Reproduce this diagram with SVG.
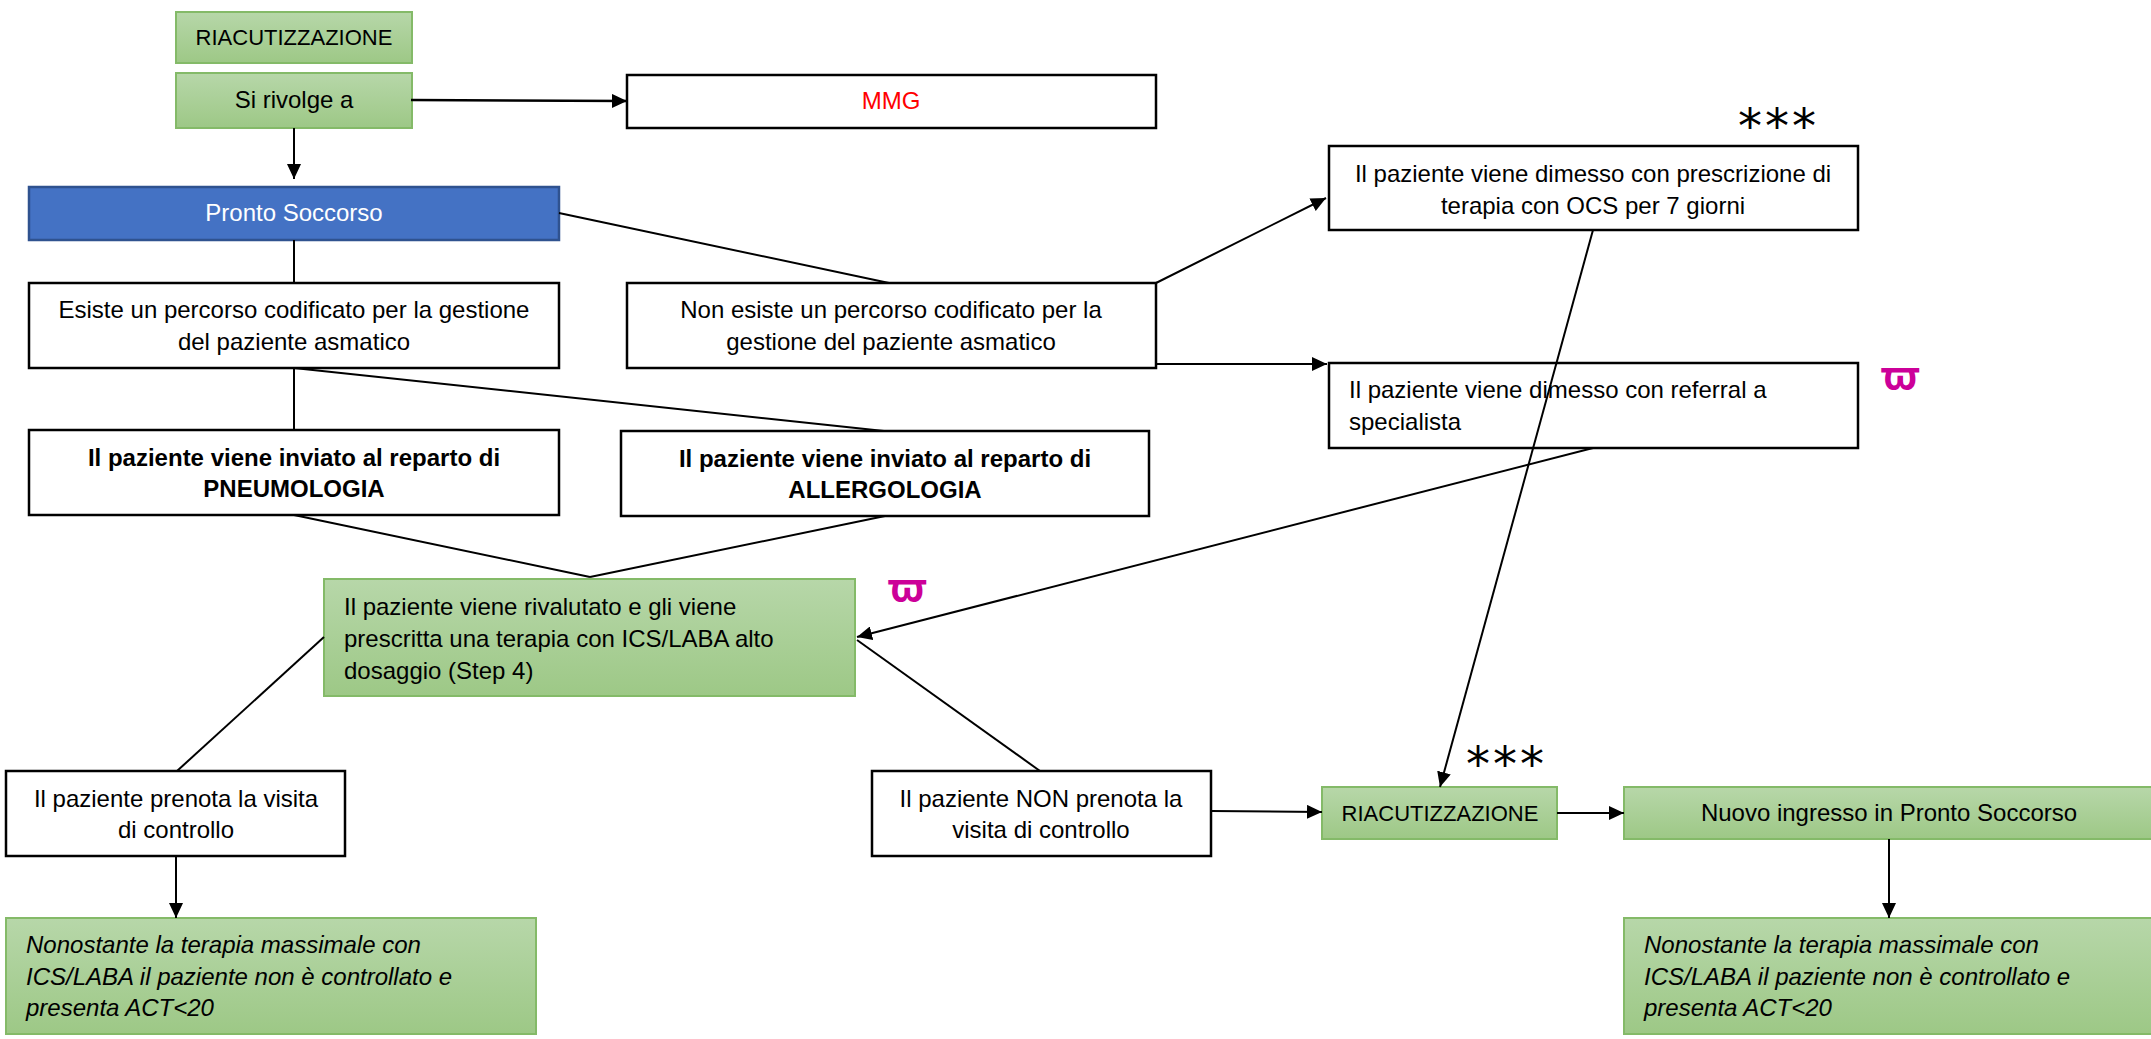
<svg xmlns="http://www.w3.org/2000/svg" width="2151" height="1039" viewBox="0 0 2151 1039">
<defs>
<linearGradient id="gr" x1="0" y1="0" x2="0" y2="1">
<stop offset="0" stop-color="#B7D7A9"/>
<stop offset="1" stop-color="#9DC886"/>
</linearGradient>
<marker id="ah" markerUnits="userSpaceOnUse" markerWidth="16" markerHeight="14" refX="15" refY="7" orient="auto">
<path d="M0,0 L15,7 L0,14 Z" fill="#000"/>
</marker>
<style>
.t{font-family:"Liberation Sans",Arial,sans-serif;font-size:24px;fill:#000}
.c{text-anchor:middle}
.b{font-weight:bold}
.i{font-style:italic}
.w{fill:#fff;stroke:#000;stroke-width:2.5}
.g{fill:url(#gr);stroke:#84BA68;stroke-width:2}
.bl{fill:#4472C4;stroke:#2F528F;stroke-width:2.5}
.ln{stroke:#000;stroke-width:2;fill:none}
.ar{stroke:#000;stroke-width:2;fill:none;marker-end:url(#ah)}
.star{font-family:"DejaVu Sans",sans-serif;font-size:48px;letter-spacing:3px;fill:#000}
.om{font-family:"Noto Sans","DejaVu Sans",sans-serif;font-weight:bold;font-size:40px;fill:#CC0099}
</style>
</defs>
<rect width="2151" height="1039" fill="#fff"/>
<g id="n-riac1"><rect class="g" x="176" y="12" width="236" height="51"/><text class="t c" x="294" y="45" style="font-size:22px">RIACUTIZZAZIONE</text></g>
<g id="n-sirivolge"><rect class="g" x="176" y="73" width="236" height="55"/><text class="t c" x="294" y="108">Si rivolge a</text></g>
<g id="n-mmg"><rect class="w" x="627" y="75" width="529" height="53"/><text class="t c" x="891" y="109" style="fill:#FF0000">MMG</text></g>
<g id="n-ps"><rect class="bl" x="29" y="187" width="530" height="53"/><text class="t c" x="294" y="221" style="fill:#fff">Pronto Soccorso</text></g>
<g id="n-esiste"><rect class="w" x="29" y="283" width="530" height="85"/><text class="t c" x="294" y="318">Esiste un percorso codificato per la gestione</text><text class="t c" x="294" y="350">del paziente asmatico</text></g>
<g id="n-nonesiste"><rect class="w" x="627" y="283" width="529" height="85"/><text class="t c" x="891" y="318">Non esiste un percorso codificato per la</text><text class="t c" x="891" y="350">gestione del paziente asmatico</text></g>
<g id="n-pneumo"><rect class="w" x="29" y="430" width="530" height="85"/><text class="t c b" x="294" y="466">Il paziente viene inviato al reparto di</text><text class="t c b" x="294" y="497">PNEUMOLOGIA</text></g>
<g id="n-allergo"><rect class="w" x="621" y="431" width="528" height="85"/><text class="t c b" x="885" y="467">Il paziente viene inviato al reparto di</text><text class="t c b" x="885" y="498">ALLERGOLOGIA</text></g>
<g id="n-ocs"><rect class="w" x="1329" y="146" width="529" height="84"/><text class="t c" x="1593" y="182">Il paziente viene dimesso con prescrizione di</text><text class="t c" x="1593" y="214">terapia con OCS per 7 giorni</text></g>
<g id="n-stars1"><text class="star" x="1738" y="143">***</text></g>
<g id="n-referral"><rect class="w" x="1329" y="363" width="529" height="85"/><text class="t" x="1349" y="398">Il paziente viene dimesso con referral a</text><text class="t" x="1349" y="430">specialista</text></g>
<g id="n-om1"><text class="om" x="1880" y="390">ϖ</text></g>
<g id="n-ics"><rect class="g" x="324" y="579" width="531" height="117"/><text class="t" x="344" y="615">Il paziente viene rivalutato e gli viene</text><text class="t" x="344" y="647">prescritta una terapia con ICS/LABA alto</text><text class="t" x="344" y="679">dosaggio (Step 4)</text></g>
<g id="n-om2"><text class="om" x="887" y="602">ϖ</text></g>
<g id="n-prenota"><rect class="w" x="6" y="771" width="339" height="85"/><text class="t c" x="176" y="807">Il paziente prenota la visita</text><text class="t c" x="176" y="838">di controllo</text></g>
<g id="n-nonprenota"><rect class="w" x="872" y="771" width="339" height="85"/><text class="t c" x="1041" y="807">Il paziente NON prenota la</text><text class="t c" x="1041" y="838">visita di controllo</text></g>
<g id="n-nonostante1"><rect class="g" x="6" y="918" width="530" height="116"/><text class="t i" x="26" y="953">Nonostante la terapia massimale con</text><text class="t i" x="26" y="985">ICS/LABA il paziente non è controllato e</text><text class="t i" x="26" y="1016">presenta ACT&lt;20</text></g>
<g id="n-stars2"><text class="star" x="1466" y="781">***</text></g>
<g id="n-riac2"><rect class="g" x="1322" y="787" width="235" height="52"/><text class="t c" x="1440" y="821" style="font-size:22px">RIACUTIZZAZIONE</text></g>
<g id="n-nuovo"><rect class="g" x="1624" y="787" width="540" height="52"/><text class="t c" x="1889" y="821">Nuovo ingresso in Pronto Soccorso</text></g>
<g id="n-nonostante2"><rect class="g" x="1624" y="918" width="540" height="116"/><text class="t i" x="1644" y="953">Nonostante la terapia massimale con</text><text class="t i" x="1644" y="985">ICS/LABA il paziente non è controllato e</text><text class="t i" x="1644" y="1016">presenta ACT&lt;20</text></g>
<g id="connectors">
<line class="ar" x1="411" y1="100" x2="627" y2="101" style="stroke-width:2.5"/>
<line class="ar" x1="294" y1="128" x2="294" y2="179"/>
<line class="ln" x1="294" y1="240" x2="294" y2="283"/>
<line class="ln" x1="559" y1="213" x2="889" y2="283"/>
<line class="ln" x1="294" y1="368" x2="294" y2="430"/>
<line class="ln" x1="294" y1="368" x2="884" y2="431"/>
<line class="ar" x1="1156" y1="283" x2="1326" y2="198"/>
<line class="ar" x1="1156" y1="364" x2="1327" y2="364"/>
<line class="ar" x1="1593" y1="230" x2="1440" y2="787"/>
<line class="ar" x1="1593" y1="448" x2="857" y2="637"/>
<line class="ln" x1="294" y1="515" x2="590" y2="577"/>
<line class="ln" x1="885" y1="516" x2="590" y2="577"/>
<line class="ln" x1="324" y1="637" x2="177" y2="771"/>
<line class="ln" x1="857" y1="640" x2="1040" y2="771"/>
<line class="ar" x1="176" y1="856" x2="176" y2="918"/>
<line class="ar" x1="1211" y1="811" x2="1322" y2="812"/>
<line class="ar" x1="1557" y1="813" x2="1624" y2="813"/>
<line class="ar" x1="1889" y1="839" x2="1889" y2="918"/>
</g>
</svg>
